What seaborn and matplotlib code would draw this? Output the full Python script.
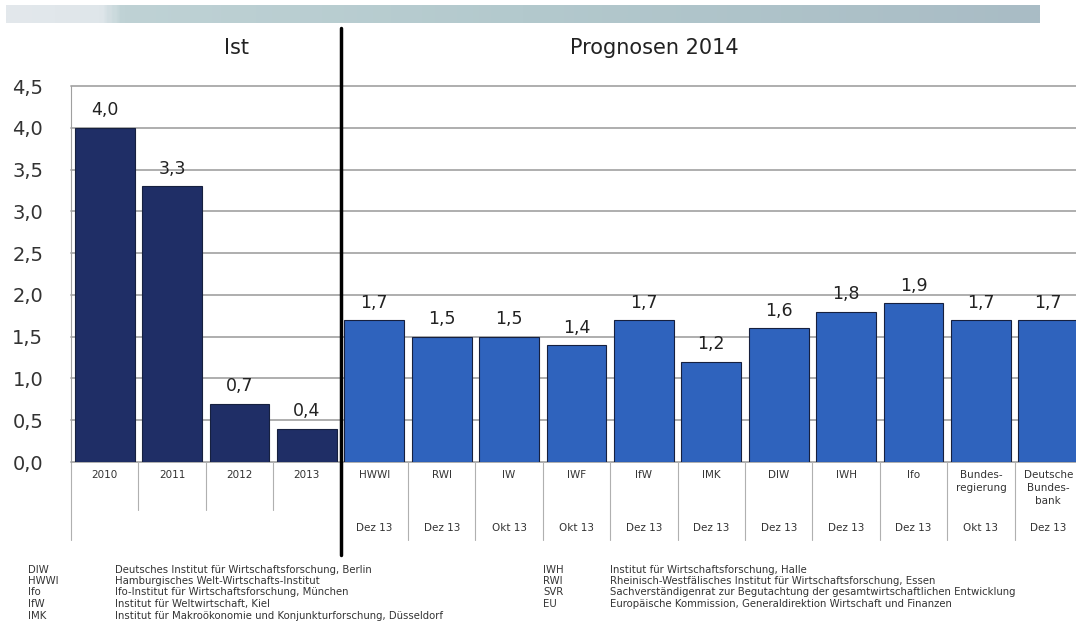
import numpy as np
import pandas as pd
import matplotlib
matplotlib.use("Agg")
import matplotlib.pyplot as plt
from matplotlib.colors import LinearSegmentedColormap
import seaborn as sns

# ---- data ----
categories = ["2010", "2011", "2012", "2013", "HWWI", "RWI", "IW", "IWF", "IfW",
              "IMK", "DIW", "IWH", "Ifo", "Bundes-\nregierung", "Deutsche\nBundes-\nbank"]
values = [4.0, 3.3, 0.7, 0.4, 1.7, 1.5, 1.5, 1.4, 1.7, 1.2, 1.6, 1.8, 1.9, 1.7, 1.7]
groups = ["Ist"] * 4 + ["Prognose"] * 11
dates = ["", "", "", "", "Dez 13", "Dez 13", "Okt 13", "Okt 13", "Dez 13", "Dez 13",
         "Dez 13", "Dez 13", "Dez 13", "Okt 13", "Dez 13"]
yticks = [0.0, 0.5, 1.0, 1.5, 2.0, 2.5, 3.0, 3.5, 4.0, 4.5]
section_titles = ["Ist", "Prognosen 2014"]
legend_left = [("DIW", "Deutsches Institut für Wirtschaftsforschung, Berlin"),
               ("HWWI", "Hamburgisches Welt-Wirtschafts-Institut"),
               ("Ifo", "Ifo-Institut für Wirtschaftsforschung, München"),
               ("IfW", "Institut für Weltwirtschaft, Kiel"),
               ("IMK", "Institut für Makroökonomie und Konjunkturforschung, Düsseldorf")]
legend_right = [("IWH", "Institut für Wirtschaftsforschung, Halle"),
                ("RWI", "Rheinisch-Westfälisches Institut für Wirtschaftsforschung, Essen"),
                ("SVR", "Sachverständigenrat zur Begutachtung der gesamtwirtschaftlichen Entwicklung"),
                ("EU", "Europäische Kommission, Generaldirektion Wirtschaft und Finanzen")]

df = pd.DataFrame({"cat": categories, "val": values, "grp": groups})

sns.set_style("white")
plt.rcParams["font.family"] = ["DejaVu Sans"]

W, H = 1076, 638
fig = plt.figure(figsize=(W / 100, H / 100), dpi=100)

def fx(px):
    return px / W

def fy(py):
    return 1 - py / H

# top gradient band
gax = fig.add_axes([fx(6), fy(23), fx(1040 - 6), (23 - 5) / H])
cmap = LinearSegmentedColormap.from_list(
    "band", [(0, "#e3e8ec"), (0.09, "#dfe6ea"), (0.11, "#bfd2d5"), (0.5, "#b3c9cd"), (1.0, "#a9bcc5")])
gax.imshow(np.linspace(0, 1, 400)[None, :], aspect="auto", cmap=cmap)
gax.axis("off")

# main axes
ax_left, ax_right = 71, 1082
ax_top, ax_bot = 86, 462
ax = fig.add_axes([fx(ax_left), fy(ax_bot), fx(ax_right - ax_left), (ax_bot - ax_top) / H])

palette = {"Ist": "#1f2e66", "Prognose": "#2f63bd"}
sns.barplot(data=df, x="cat", y="val", hue="grp", palette=palette, dodge=False, saturation=1,
            width=0.89, edgecolor="#16203f", linewidth=0.8, legend=False, ax=ax, zorder=3)

ax.set_ylim(0, 4.5)
ax.set_xlim(-0.5, len(categories) - 0.5)
ax.set_yticks(yticks)
ax.set_yticklabels([f"{t:.1f}".replace(".", ",") for t in yticks], fontsize=14, color="#333333")
ax.yaxis.grid(True, color="#a8a8a8", linewidth=1.3, zorder=0)
for gl in ax.get_ygridlines():
    gl.set_clip_on(False)
ax.set_axisbelow(True)
ax.tick_params(axis="y", direction="out", length=4, color="#a0a0a0", pad=16)
ax.set_xticks(range(len(categories)))
ax.set_xticklabels([])
ax.tick_params(axis="x", length=0)
ax.set_xlabel("")
ax.set_ylabel("")
for s in ["top", "right", "bottom"]:
    ax.spines[s].set_visible(False)
ax.spines["left"].set_color("#a0a0a0")

for cont in ax.containers:
    ax.bar_label(cont, labels=[f"{v:.1f}".replace(".", ",") for v in cont.datavalues],
                 padding=6, fontsize=12.5, color="#222222")

tr = ax.get_xaxis_transform()
def ay(py):
    return (ax_bot - py) / (ax_bot - ax_top)

# category labels and dates
for i, (c, d) in enumerate(zip(categories, dates)):
    ax.text(i, ay(470), c, transform=tr, ha="center", va="top", fontsize=7.5,
            color="#333333", linespacing=1.35, clip_on=False)
    if d:
        ax.text(i, ay(528), d, transform=tr, ha="center", va="center", fontsize=7.5,
                color="#333333", clip_on=False)

# separators below axis
n_ist = groups.count("Ist")
ax.plot([-0.5, -0.5], [0, ay(540)], transform=tr, color="#b0b0b0", lw=0.8, clip_on=False)
for k in range(1, len(categories)):
    x = k - 0.5
    if k < n_ist:
        ax.plot([x, x], [0, ay(510)], transform=tr, color="#b0b0b0", lw=0.8, clip_on=False)
    elif k > n_ist:
        ax.plot([x, x], [0, ay(540)], transform=tr, color="#b0b0b0", lw=0.8, clip_on=False)

# thick divider
ax.plot([n_ist - 0.5, n_ist - 0.5], [ay(28), ay(555)], transform=tr, color="black",
        lw=2.5, clip_on=False, zorder=5)

# section titles
fig.text(fx(237), fy(48), section_titles[0], ha="center", va="center",
         fontsize=15, color="#222222")
fig.text(fx(654), fy(48), section_titles[1], ha="center", va="center",
         fontsize=15, color="#222222")

# footnote legend
rows_y = [570, 581, 592, 604, 616]
for (ab, desc), py in zip(legend_left, rows_y):
    fig.text(fx(28), fy(py), ab, ha="left", va="center", fontsize=7.3, color="#333333")
    fig.text(fx(115), fy(py), desc, ha="left", va="center", fontsize=7.3, color="#333333")
for (ab, desc), py in zip(legend_right, rows_y):
    fig.text(fx(543), fy(py), ab, ha="left", va="center", fontsize=7.3, color="#333333")
    fig.text(fx(610), fy(py), desc, ha="left", va="center", fontsize=7.3, color="#333333")

fig.savefig("out.png", dpi=100)
